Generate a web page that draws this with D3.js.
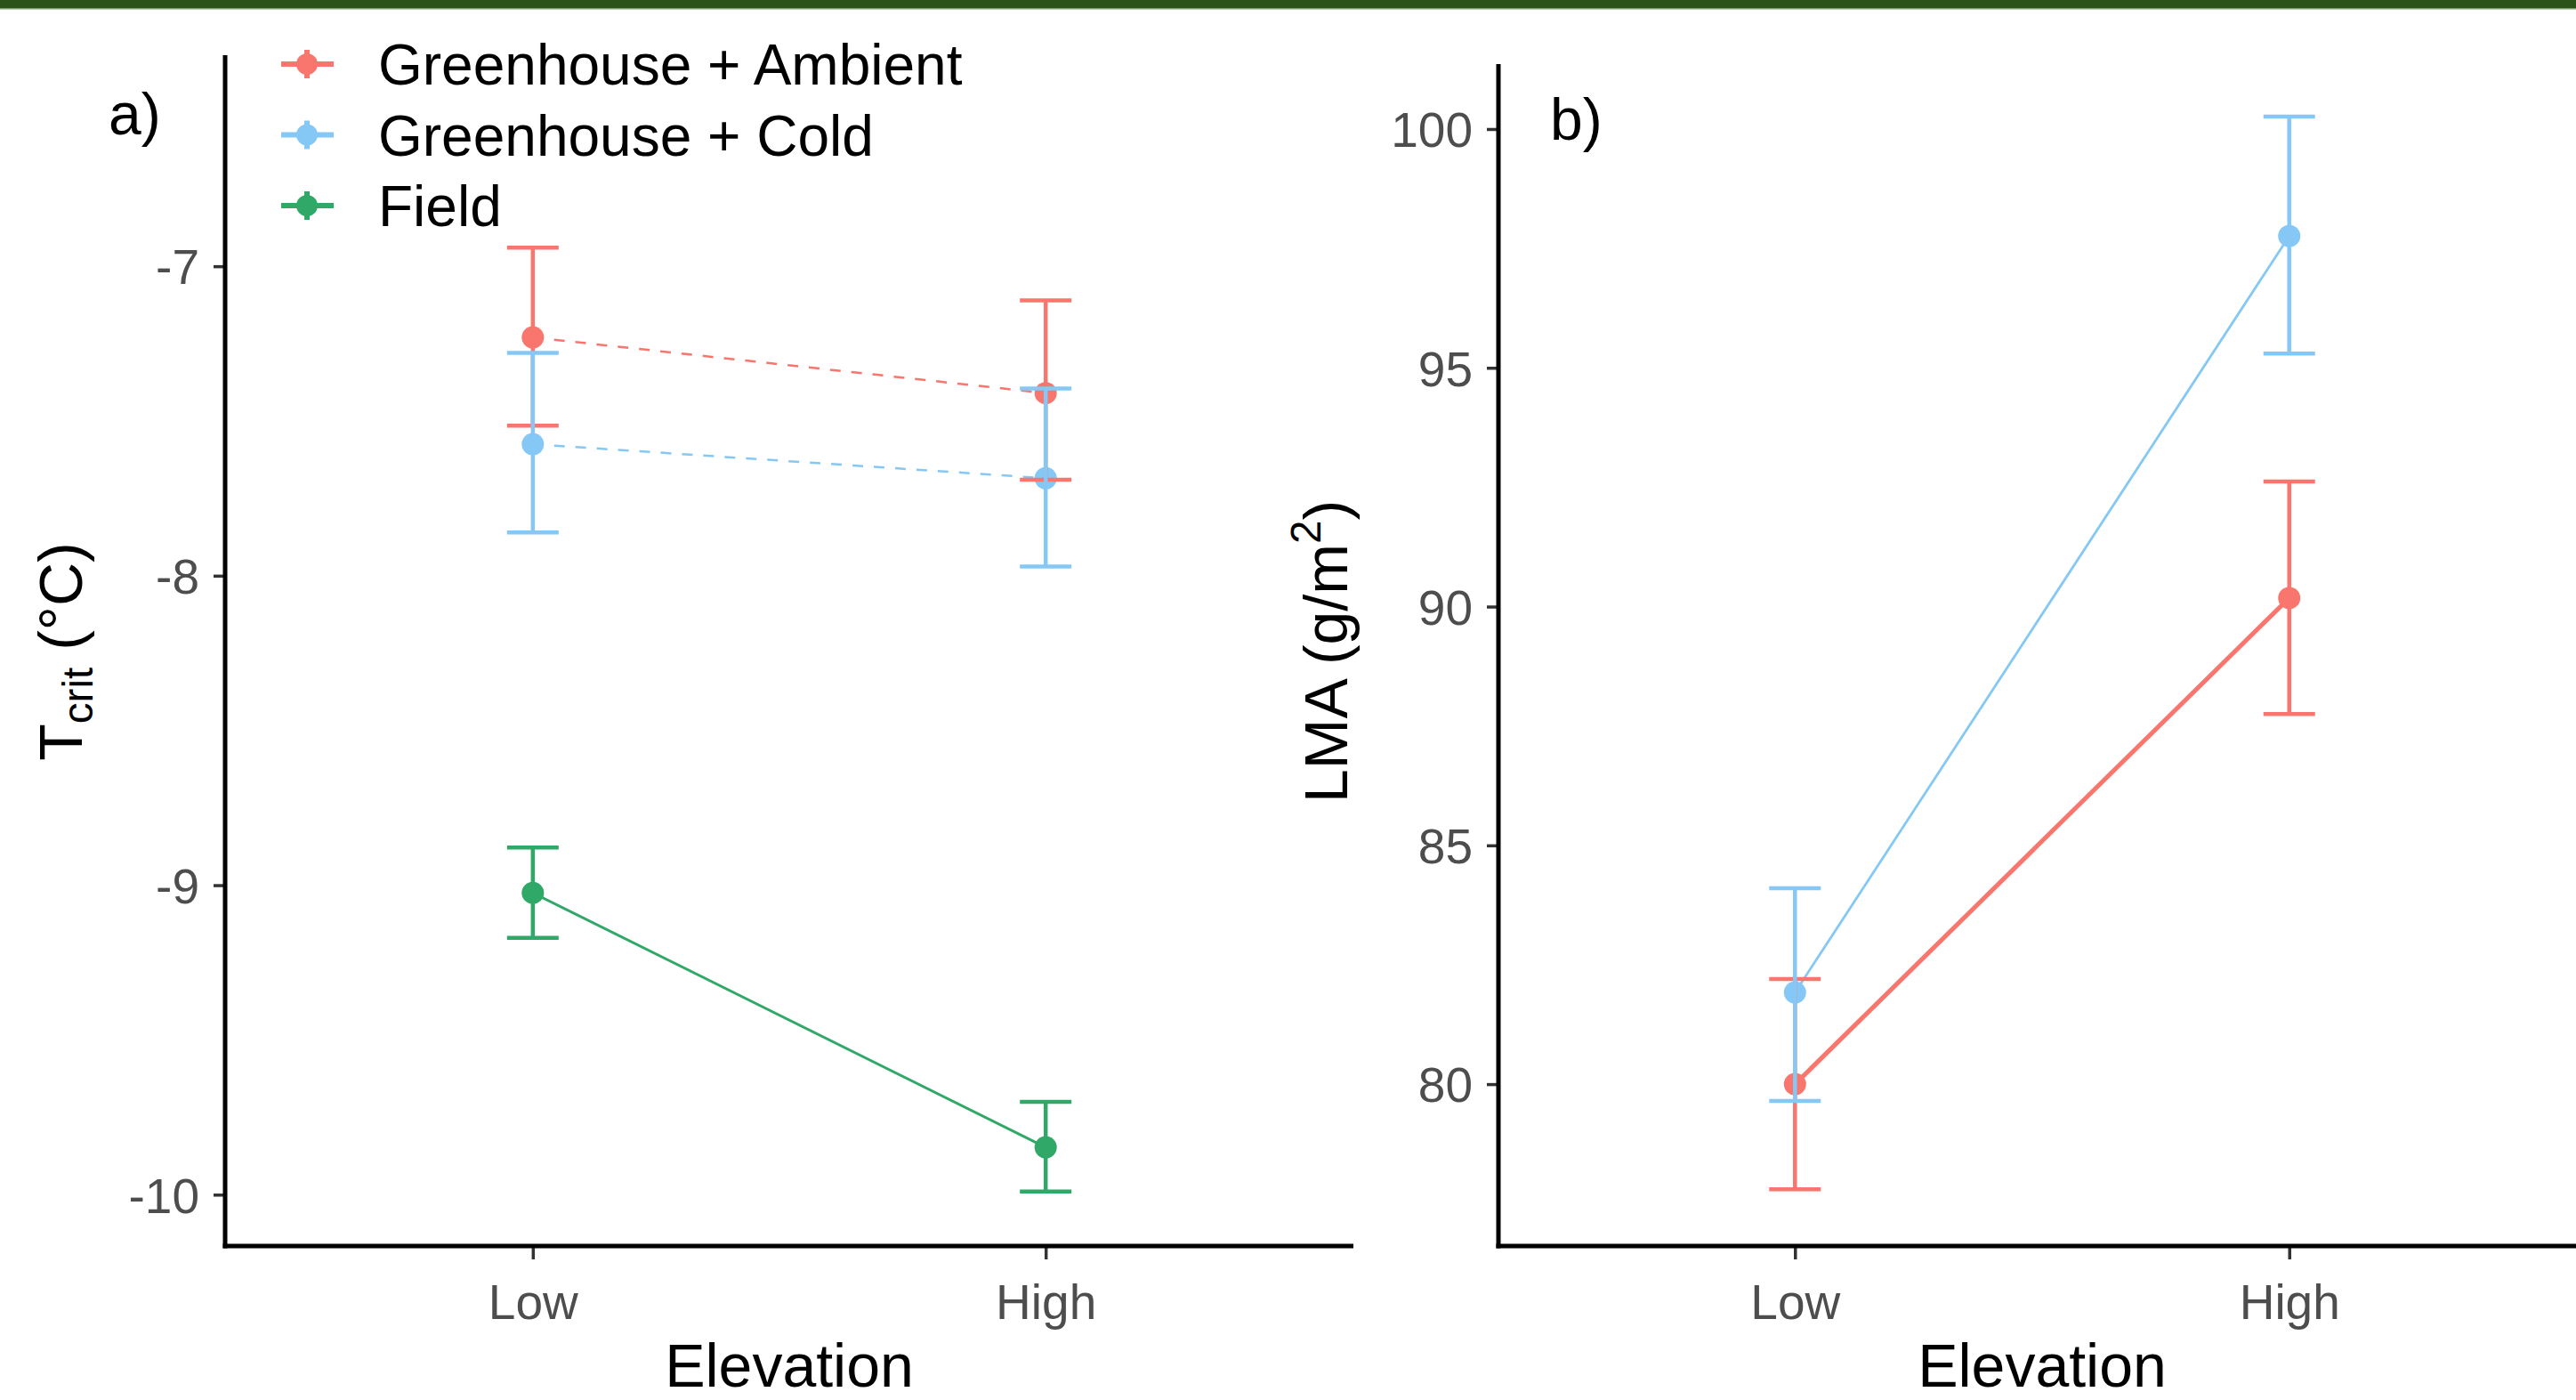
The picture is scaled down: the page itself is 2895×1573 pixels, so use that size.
<!DOCTYPE html>
<html>
<head>
<meta charset="utf-8">
<script src="https://cdn.jsdelivr.net/npm/d3@7/dist/d3.min.js"></script>
<style>
  html, body { margin: 0; padding: 0; background: #fff; }
  svg { display: block; font-family: "Liberation Sans", Arial, sans-serif; }
</style>
</head>
<body>
<script>
// ---------------- DATA ----------------
const elevations = ["Low", "High"];
const seriesNames = ["Greenhouse + Ambient", "Greenhouse + Cold", "Field"];
const seriesColors = ["#F8766D", "#85C8F5", "#30A868"];

// Panel a: Tcrit (°C)
const tcritAmbientMean  = [-7.23, -7.41];
const tcritAmbientUpper = [-6.94, -7.11];
const tcritAmbientLower = [-7.515, -7.69];
const tcritColdMean  = [-7.575, -7.685];
const tcritColdUpper = [-7.28, -7.395];
const tcritColdLower = [-7.86, -7.97];
const tcritFieldMean  = [-9.025, -9.847];
const tcritFieldUpper = [-8.878, -9.70];
const tcritFieldLower = [-9.17, -9.99];
const tcritTicks = [-7, -8, -9, -10];

// Panel b: LMA (g/m2)
const lmaAmbientMean  = [80.0, 90.18];
const lmaAmbientUpper = [82.2, 92.62];
const lmaAmbientLower = [77.8, 87.75];
const lmaColdMean  = [81.92, 97.76];
const lmaColdUpper = [84.1, 100.26];
const lmaColdLower = [79.65, 95.3];
const lmaTicks = [80, 85, 90, 95, 100];

// ---------------- SETUP ----------------
const W = 2895, H = 1573;
const svg = d3.select("body").append("svg").attr("width", W).attr("height", H);
svg.append("rect").attr("width", W).attr("height", H).attr("fill", "#fff");
// top green band
svg.append("rect").attr("x", 0).attr("y", 0).attr("width", W).attr("height", 9).attr("fill", "#2a5219");
svg.append("rect").attr("x", 0).attr("y", 9).attr("width", W).attr("height", 1.5).attr("fill", "#7d9a70");

const tickFont = 55, titleFont = 68, legendFont = 64;
const tickColor = "#4d4d4d";

function buildSeries(names, colors, means, uppers, lowers, dashed, widths) {
  return names.map((n, i) => ({
    name: n, color: colors[i], dashed: dashed[i], width: widths[i],
    values: elevations.map((e, j) => ({ elev: e, mean: means[i][j], upper: uppers[i][j], lower: lowers[i][j] }))
  }));
}

function drawPanel(opts) {
  const g = svg.append("g");
  const x = d3.scalePoint().domain(elevations).range([opts.left, opts.right]).padding(0.6);
  const y = d3.scaleLinear().domain(opts.yDomain).range([opts.bottom, opts.top]);

  // lines
  const line = d3.line().x(d => x(d.elev)).y(d => y(d.mean));
  opts.series.forEach(s => {
    g.append("path").datum(s.values).attr("d", line)
      .attr("fill", "none").attr("stroke", s.color).attr("stroke-width", s.width)
      .attr("stroke-dasharray", s.dashed ? "12,12" : null);
  });
  // points
  opts.series.forEach(s => {
    g.selectAll(null).data(s.values).enter().append("circle")
      .attr("cx", d => x(d.elev)).attr("cy", d => y(d.mean)).attr("r", 12.5)
      .attr("fill", s.color);
  });
  // error bars
  const capHalf = 29;
  opts.series.forEach(s => {
    const eb = g.selectAll(null).data(s.values).enter().append("g")
      .attr("stroke", s.color).attr("stroke-width", 4.5).attr("fill", "none");
    eb.append("line").attr("x1", d => x(d.elev)).attr("x2", d => x(d.elev))
      .attr("y1", d => y(d.upper)).attr("y2", d => y(d.lower));
    eb.append("line").attr("x1", d => x(d.elev) - capHalf).attr("x2", d => x(d.elev) + capHalf)
      .attr("y1", d => y(d.upper)).attr("y2", d => y(d.upper));
    eb.append("line").attr("x1", d => x(d.elev) - capHalf).attr("x2", d => x(d.elev) + capHalf)
      .attr("y1", d => y(d.lower)).attr("y2", d => y(d.lower));
  });

  // axes
  const yAxis = d3.axisLeft(y).tickValues(opts.yTicks).tickFormat(d => String(d)).tickSize(13).tickPadding(16);
  const ya = g.append("g").attr("transform", `translate(${opts.left},0)`).call(yAxis);
  const xAxis = d3.axisBottom(x).tickSize(15).tickPadding(28);
  const xa = g.append("g").attr("transform", `translate(0,${opts.bottom})`).call(xAxis);
  [ya, xa].forEach(a => {
    a.select(".domain").remove();
    a.selectAll(".tick line").attr("stroke", "#333").attr("stroke-width", 3.5);
    a.selectAll(".tick text").attr("fill", tickColor).attr("font-size", tickFont)
      .attr("font-family", "Liberation Sans, Arial, sans-serif");
  });
  ya.selectAll(".tick text").attr("dy", "0.36em");
  xa.selectAll(".tick text").attr("dy", "0.71em");
  // axis lines
  g.append("line").attr("x1", opts.left).attr("x2", opts.left).attr("y1", opts.top).attr("y2", opts.bottom + 2.5)
    .attr("stroke", "#000").attr("stroke-width", 5);
  g.append("line").attr("x1", opts.left - 2.5).attr("x2", opts.axisRight).attr("y1", opts.bottom).attr("y2", opts.bottom)
    .attr("stroke", "#000").attr("stroke-width", 5);

  // x title
  g.append("text").attr("x", (opts.left + opts.right) / 2).attr("y", 1558)
    .attr("text-anchor", "middle").attr("font-size", titleFont).attr("fill", "#000").text("Elevation");
  // panel tag
  g.append("text").attr("x", opts.tagX).attr("y", opts.tagY).attr("font-size", 66).attr("fill", "#000").text(opts.tag);
  return { x, y };
}

// Panel a
const seriesA = buildSeries(seriesNames, seriesColors,
  [tcritAmbientMean, tcritColdMean, tcritFieldMean],
  [tcritAmbientUpper, tcritColdUpper, tcritFieldUpper],
  [tcritAmbientLower, tcritColdLower, tcritFieldLower],
  [true, true, false], [2.5, 2.5, 3]);
drawPanel({
  left: 253, right: 1521, axisRight: 1521, top: 62, bottom: 1400,
  yDomain: [-10.166, -6.318], yTicks: tcritTicks, series: seriesA,
  tag: "a)", tagX: 122, tagY: 151
});

// Panel b
const seriesB = buildSeries(seriesNames.slice(0, 2), seriesColors.slice(0, 2),
  [lmaAmbientMean, lmaColdMean],
  [lmaAmbientUpper, lmaColdUpper],
  [lmaAmbientLower, lmaColdLower],
  [false, false], [5, 2.8]);
drawPanel({
  left: 1684, right: 2906, axisRight: 2895, top: 72, bottom: 1400,
  yDomain: [76.61, 101.36], yTicks: lmaTicks, series: seriesB,
  tag: "b)", tagX: 1742, tagY: 157
});

// Y titles
const tA = svg.append("text").attr("transform", "translate(92,732) rotate(-90)")
  .attr("text-anchor", "middle").attr("font-size", titleFont).attr("fill", "#000");
tA.append("tspan").text("T");
tA.append("tspan").attr("font-size", titleFont * 0.7).attr("dy", 12).text("crit");
tA.append("tspan").attr("dy", -12).text(" (°C)");

const tB = svg.append("text").attr("transform", "translate(1514,732) rotate(-90)")
  .attr("text-anchor", "middle").attr("font-size", titleFont).attr("fill", "#000");
tB.append("tspan").text("LMA (g/m");
tB.append("tspan").attr("font-size", titleFont * 0.7).attr("dy", -30).text("2");
tB.append("tspan").attr("dy", 30).text(")");

// Legend
const legendY = d3.scalePoint().domain(seriesNames).range([72, 231]);
const leg = svg.append("g");
seriesNames.forEach((n, i) => {
  const cy = legendY(n), c = seriesColors[i];
  const k = leg.append("g");
  k.append("line").attr("x1", 316).attr("x2", 375).attr("y1", cy).attr("y2", cy)
    .attr("stroke", c).attr("stroke-width", 6);
  k.append("line").attr("x1", 345).attr("x2", 345).attr("y1", cy - 16).attr("y2", cy + 16)
    .attr("stroke", c).attr("stroke-width", 6);
  k.append("circle").attr("cx", 345).attr("cy", cy).attr("r", 12).attr("fill", c);
  leg.append("text").attr("x", 425).attr("y", cy).attr("dy", "0.36em")
    .attr("font-size", legendFont).attr("fill", "#000").text(n);
});
</script>
</body>
</html>
